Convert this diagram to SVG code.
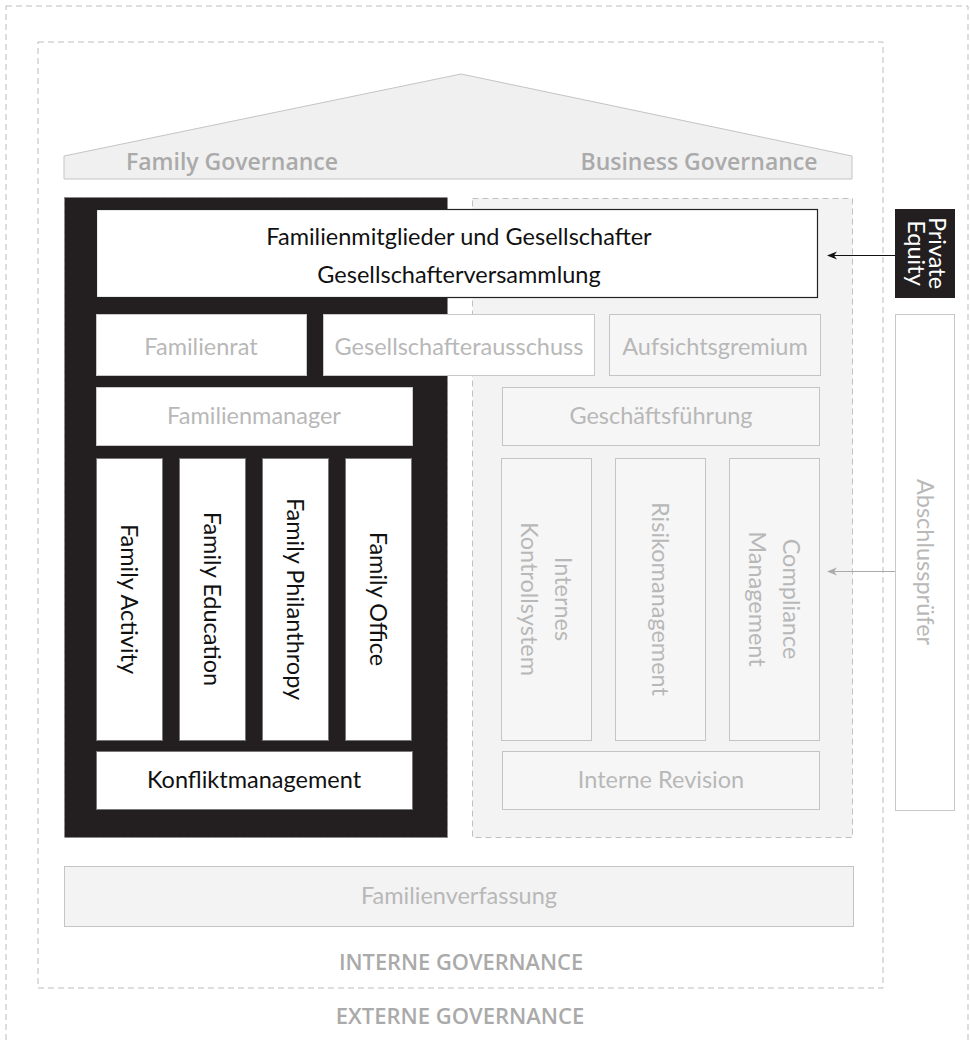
<svg xmlns="http://www.w3.org/2000/svg" width="970" height="1040" viewBox="0 0 970 1040">
<defs>
<style>
.t{font-family:Lato,"Open Sans","Liberation Sans",sans-serif;font-size:23.5px;text-anchor:middle}
.g{fill:#b8b8b8}
.k{fill:#111}
.w{fill:#fff}
.h{font-family:"Open Sans",Lato,"Liberation Sans",sans-serif;font-weight:600;fill:#aaa;text-anchor:middle}
.dash{fill:none;stroke:#bdbdbd;stroke-width:1;stroke-dasharray:6 4}
.lb{fill:#fff;stroke:#c8c8c8;stroke-width:1}
.gb{fill:#f6f6f6;stroke:#c4c4c4;stroke-width:1}
.wb{fill:#fff;stroke:#222;stroke-width:1.2}
.col{fill:#fff;stroke:#777;stroke-width:1}
</style>
<marker id="ak" viewBox="0 0 10 10" refX="9" refY="5" markerWidth="10" markerHeight="10" markerUnits="userSpaceOnUse" orient="auto"><path d="M0,1 L10,5 L0,9 L3,5 Z" fill="#111"/></marker>
<marker id="ag" viewBox="0 0 10 10" refX="9" refY="5" markerWidth="10" markerHeight="10" markerUnits="userSpaceOnUse" orient="auto"><path d="M0,1 L10,5 L0,9 L3,5 Z" fill="#aaa"/></marker>
</defs>
<rect width="970" height="1040" fill="#fff"/>
<g id="externe">
<rect class="dash" x="6" y="6" width="962" height="1050"/>
<text class="h" x="460" y="1024" font-size="22">EXTERNE GOVERNANCE</text>
</g>
<g id="interne">
<rect class="dash" x="38" y="42" width="845" height="946"/>
<text class="h" x="461" y="970" font-size="21.8">INTERNE GOVERNANCE</text>
</g>
<g id="roof">
<polygon points="64,156 461,74 852,156 852,179 64,179" fill="#f0f0f0" stroke="#c4c4c4" stroke-width="1"/>
<text class="h" x="232" y="170" font-size="23">Family Governance</text>
<text class="h" x="699" y="170" font-size="23">Business Governance</text>
</g>
<g id="family-area">
<rect x="64.5" y="197.5" width="383" height="640" fill="#231f20" stroke="#888" stroke-width="1" stroke-dasharray="4 3"/>
</g>
<g id="business-area">
<rect x="472.5" y="198.5" width="380" height="639" fill="#f3f3f3" stroke="#c0c0c0" stroke-width="1" stroke-dasharray="6 4"/>
</g>
<g id="gesellschafter">
<rect class="wb" x="96.5" y="209.5" width="721" height="88"/>
<text class="t k" x="459" y="245">Familienmitglieder und Gesellschafter</text>
<text class="t k" x="459" y="283">Gesellschafterversammlung</text>
</g>
<g id="familienrat">
<rect class="lb" x="96.5" y="314.5" width="210" height="61"/>
<text class="t g" x="201" y="355">Familienrat</text>
</g>
<g id="gesellschafterausschuss">
<rect class="lb" x="323.5" y="314.5" width="271" height="61"/>
<text class="t g" x="459" y="355">Gesellschafterausschuss</text>
</g>
<g id="aufsichtsgremium">
<rect class="gb" x="609.5" y="314.5" width="211" height="61"/>
<text class="t g" x="715" y="355">Aufsichtsgremium</text>
</g>
<g id="familienmanager">
<rect class="lb" x="96.5" y="387.5" width="316" height="58"/>
<text class="t g" x="254" y="424">Familienmanager</text>
</g>
<g id="geschaeftsfuehrung">
<rect class="gb" x="502.5" y="387.5" width="317" height="58"/>
<text class="t g" x="661" y="424">Geschäftsführung</text>
</g>
<g id="family-activity">
<rect class="col" x="96.5" y="458.5" width="66" height="282"/>
<text class="t k" transform="translate(129,599) rotate(90)" y="8">Family Activity</text>
</g>
<g id="family-education">
<rect class="col" x="179.5" y="458.5" width="66" height="282"/>
<text class="t k" transform="translate(212,599) rotate(90)" y="8">Family Education</text>
</g>
<g id="family-philanthropy">
<rect class="col" x="262.5" y="458.5" width="66" height="282"/>
<text class="t k" transform="translate(295,599) rotate(90)" y="8">Family Philanthropy</text>
</g>
<g id="family-office">
<rect class="col" x="345.5" y="458.5" width="66" height="282"/>
<text class="t k" transform="translate(378,599) rotate(90)" y="8">Family Office</text>
</g>
<g id="konfliktmanagement">
<rect class="col" x="96.5" y="751.5" width="316" height="58"/>
<text class="t k" x="254" y="788">Konfliktmanagement</text>
</g>
<g id="internes-kontrollsystem">
<rect class="gb" x="501.5" y="458.5" width="90" height="282"/>
<text class="t g" transform="translate(546,599) rotate(90)"><tspan x="0" y="-9">Internes</tspan><tspan x="0" y="25">Kontrollsystem</tspan></text>
</g>
<g id="risikomanagement">
<rect class="gb" x="615.5" y="458.5" width="90" height="282"/>
<text class="t g" transform="translate(660,599) rotate(90)" y="8">Risikomanagement</text>
</g>
<g id="compliance">
<rect class="gb" x="729.5" y="458.5" width="90" height="282"/>
<text class="t g" transform="translate(774,599) rotate(90)"><tspan x="0" y="-9">Compliance</tspan><tspan x="0" y="25">Management</tspan></text>
</g>
<g id="interne-revision">
<rect class="gb" x="502.5" y="751.5" width="317" height="58"/>
<text class="t g" x="661" y="788">Interne Revision</text>
</g>
<g id="familienverfassung">
<rect x="64.5" y="866.5" width="789" height="60" fill="#f3f3f3" stroke="#c4c4c4" stroke-width="1"/>
<text class="t g" x="459" y="904">Familienverfassung</text>
</g>
<g id="private-equity">
<rect x="895" y="209" width="60" height="89" fill="#231f20"/>
<text class="t w" transform="translate(925,253) rotate(90)" font-size="21"><tspan x="0" y="-4">Private</tspan><tspan x="0" y="17">Equity</tspan></text>
</g>
<g id="abschlusspruefer">
<rect x="895.5" y="314.5" width="59" height="496" fill="#fff" stroke="#c8c8c8" stroke-width="1"/>
<text class="t g" transform="translate(925,562) rotate(90)" y="8">Abschlussprüfer</text>
</g>
<g id="connectors">
<line x1="895" y1="255.5" x2="828" y2="255.5" stroke="#111" stroke-width="1.2" marker-end="url(#ak)"/>
<line x1="895" y1="571.5" x2="828" y2="571.5" stroke="#aaa" stroke-width="1.2" marker-end="url(#ag)"/>
</g>
</svg>
